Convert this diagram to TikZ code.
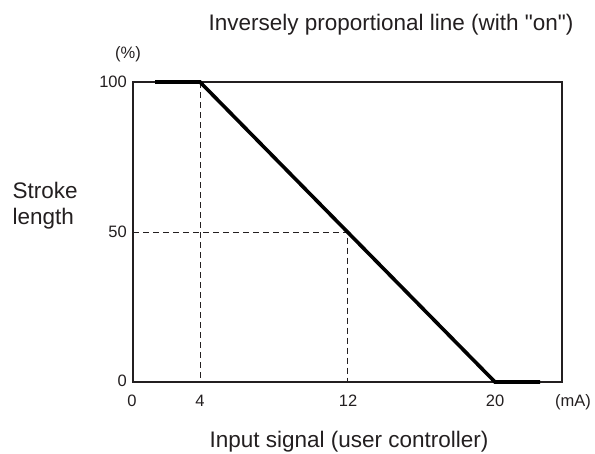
\documentclass[tikz,border=0pt]{standalone}
\usepackage{fontspec}
\setmainfont{Liberation Sans}[Ligatures=TeXOff]
\definecolor{ink}{HTML}{231F20}
\begin{document}
\begin{tikzpicture}[x=1pt,y=-1pt,
  frame/.style={draw=ink,line width=1.3pt},
  guide/.style={draw=ink,line width=0.9pt,dash pattern=on 6pt off 4pt},
  curve/.style={draw=black,line width=3.6pt,line join=miter},
  tick/.style={text=ink,font=\fontsize{16.5}{19}\selectfont,inner sep=0pt},
  big/.style={text=ink,font=\fontsize{22.5}{26}\selectfont,inner sep=0pt}]
\useasboundingbox (0,0) rectangle (595,453);

% plot frame corners
\coordinate (tl) at (133,82);
\coordinate (br) at (562,382);

% key points of the characteristic
\coordinate (s0) at (155,82);
\coordinate (p4) at (200,82);
\coordinate (p20) at (495,382);
\coordinate (s1) at (540,382);
\coordinate (b4) at (200,382);
\coordinate (mid) at (347.5,232);
\coordinate (b12) at (347.5,382);
\coordinate (l50) at (133,232);

% guide lines
\draw[guide] (p4) -- (b4);
\draw[guide] (l50) -- (mid) -- (b12);

% frame
\draw[frame] (tl) rectangle (br);

% characteristic line
\draw[curve] (s0) -- (p4) -- (p20) -- (s1);

% title and axis labels
\node[big,anchor=base] (title) at (391,30) {Inversely proportional line (with "on")};
\node[tick,anchor=base] (pct) at (128,58) {(\%)};
\node[big,anchor=base] (xlabel) at (349,447.5) {Input signal (user controller)};
\node[big,anchor=base west,align=left] (ylabel) at (12.5,224.5) {Stroke\\length};

% y tick labels
\node[tick,anchor=east] (y100) at (127,82) {100};
\node[tick,anchor=east] (y50) at (127,232) {50};
\node[tick,anchor=east] (y0) at (127,381) {0};

% x tick labels
\node[tick,anchor=base] (x0) at (132,406) {0};
\node[tick,anchor=base] (x4) at (200,406) {4};
\node[tick,anchor=base] (x12) at (348,406) {12};
\node[tick,anchor=base] (x20) at (495,406) {20};
\node[tick,anchor=base] (xmA) at (573,406) {(mA)};
\end{tikzpicture}
\end{document}
